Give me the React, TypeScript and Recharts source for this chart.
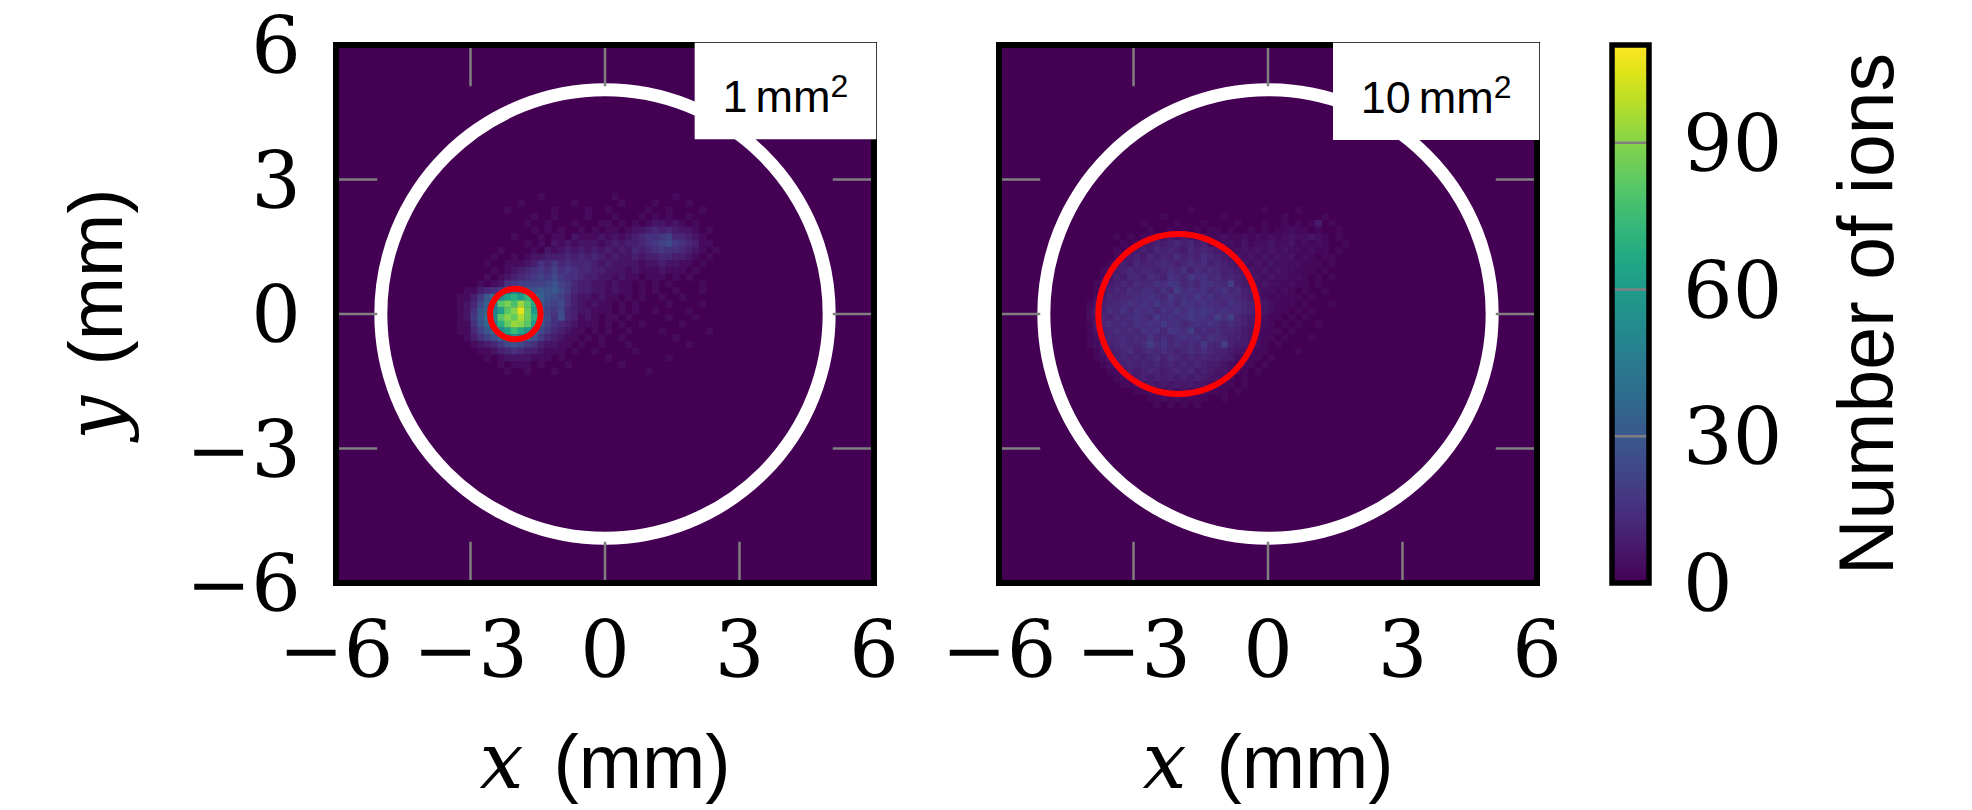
import React from 'react';
import { ScatterChart, Scatter, BarChart, Bar, XAxis, YAxis, ReferenceArea, ReferenceDot, ReferenceLine } from 'recharts';

// ---------------- data ----------------
const AXIS_TICKS = [-6, -3, 0, 3, 6];
const INNER_TICKS = [-3, 0, 3];
const CBAR_TICKS = [0, 30, 60, 90];
const CBAR_LINES = [30, 60, 90];
const CBAR_MAX = 110;
const CBAR_DATA = [{ k: 'ions', v: CBAR_MAX }];
const AXIS_MIN = -6;
const AXIS_MAX = 6;
const BIN = 0.15; // mm, histogram bin width
const DETECTOR_R = 5; // mm
const SPOT_X = -2;
const SPOT_Y = 0;
const SPOT_AREAS = [1, 10]; // mm^2
const BOX_TEXT = ['1', '10'];
const BOX_LEFT = [2.0, 1.45];
const BOX_BOTTOM = [3.9, 3.88];
const TICK_MM = 0.92;

// histogram counts: one char per bin, level index in LEVELS times unit
const LEVELS = '0123456789abcdefghijklmnopqrstuvwxyz';

const LEFT_ROW0 = 22;
const LEFT_COL0 = 17;
const LEFT_UNIT = 3;
const LEFT_ROWS = [
  '0000000000 0001000000 0000100000 0001000000',
  '0000000000 1000000010 0000010000 1000010000',
  '0000000010 0000010000 1001000001 0010000100',
  '0000000000 0010010000 1000100010 1010010000',
  '0000000000 0100100010 0011010101 2212101000',
  '0000000000 0010101001 0101101223 4343221010',
  '0000000001 0001011021 1121212345 5674432100',
  '0000000000 0101021212 2212323345 6786543110',
  '0000000100 0010212323 2323232434 5655432101',
  '0000001001 0122333434 3432322323 3443321010',
  '0000010011 1235464544 4323222212 2322110100',
  '0000001012 3456575654 4332221211 1211101000',
  '0000010123 4567686554 3322121101 1101010000',
  '0000101256 7777897643 3221211010 1010000100',
  '00113456af ea9a9a8643 3221211010 1001000100',
  '01136adhln kohb987532 2121101010 0100100000',
  '01248bfrtq vrma878532 1211010100 0010000100',
  '0125acglru zskb768432 2111010100 1000010000',
  '0126adhrus wsnb859431 2101101000 0010001000',
  '01159cfnsv urja754321 1101010010 0000100000',
  '01147achlp mje8643211 0101001000 0100000010',
  '0013579cgh fc96432110 1010010000 0001000000',
  '0001234689 8653221101 0010001000 0000010000',
  '0000112345 4332111010 0100000100 0000000000',
  '0000010122 2211101000 0001000000 0010000000',
  '0000000101 1101000100 0000010000 0000000000',
  '0000000010 0100010000 0000000001 0000000000',
];

const RIGHT_ROW0 = 24;
const RIGHT_COL0 = 12;
const RIGHT_UNIT = 2;
const RIGHT_ROWS = [
  '0000000000 0000001000 0000000100 0010000000',
  '0000000000 0010000000 0100000000 1000001000',
  '0000000001 0000100010 0001000100 1010140100',
  '0000000000 1001010101 1010010101 1211010010',
  '0000010101 1234343221 1211212121 2322321010',
  '0000001013 4545656452 1221312232 2312121001',
  '0000010345 4656546565 4322323232 3221211010',
  '0000013454 6565756576 5433232323 2312101100',
  '0000135465 5676567675 6543323232 2221110100',
  '0001245656 6567685767 6554332323 2211101000',
  '0001354665 7658769786 7565433232 2121010100',
  '0012456576 6879867688 76a5432322 1211010000',
  '0013565767 7686a78786 7867543221 2101001000',
  '0024656677 8769787978 6776543212 1110100000',
  '0135667878 7978698787 7687654321 1101000100',
  '0245768687 8687979898 7877654321 1010100000',
  '0236576787 6978789887 a7a6543211 0101000000',
  '0146767687 8797867878 7676543210 1010010000',
  '0135676768 786987a676 7665432111 0100000000',
  '0125667676 8676787868 7655432110 1000100000',
  '0124567667 a786767696 6a54432101 0000000000',
  '0013456756 7676567676 5543321100 0010000000',
  '0012456565 6757656565 5442211010 0000000000',
  '0001245656 5656565654 4321110100 0000000000',
  '0000124545 6545656454 3321101000 0000000000',
  '0000012345 4545454543 3210100000 0000000000',
  '0000001123 4343434332 2110100000 0000000000',
  '0000000011 2323232221 1101000000 0000000000',
  '0000000000 1121211110 0100000000 0000000000',
  '0000000000 0101010100 0000000000 0000000000',
];

// viridis colormap stops (style)
const VIRIDIS = [
  '#440154', '#471365', '#482475', '#463480', '#414487', '#3b528b', '#355f8d',
  '#2f6c8e', '#2a788e', '#25848e', '#21918c', '#1e9c89', '#22a884', '#2fb47c',
  '#44bf70', '#5ec962', '#7ad151', '#9bd93c', '#bddf26', '#dfe318', '#fde725',
];

// ---------------- layout ----------------
const W = 1972;
const H = 810;
const TOP = 45;
const XAXIS_H = 227;
const PLOT = 538;
const PX_PER_MM = PLOT / (AXIS_MAX - AXIS_MIN);
const TICK_FONT = 'DejaVu Serif';
const SANS = 'Liberation Sans';

function hex(c: string) {
  return [parseInt(c.slice(1, 3), 16), parseInt(c.slice(3, 5), 16), parseInt(c.slice(5, 7), 16)];
}
function viridis(t: number) {
  const tt = Math.max(0, Math.min(1, t)) * (VIRIDIS.length - 1);
  const i = Math.min(VIRIDIS.length - 2, Math.floor(tt));
  const f = tt - i;
  const a = hex(VIRIDIS[i]);
  const b = hex(VIRIDIS[i + 1]);
  const m = a.map((v, k) => Math.round(v + (b[k] - v) * f));
  return `rgb(${m[0]},${m[1]},${m[2]})`;
}

function decode(rows: string[], row0: number, col0: number, unit: number) {
  const pts: { x: number; y: number; v: number }[] = [];
  rows.forEach((s, ri) => {
    const cells = s.replace(/ /g, '');
    for (let ci = 0; ci < cells.length; ci++) {
      const lvl = LEVELS.indexOf(cells[ci]);
      if (lvl > 0) {
        const row = row0 + ri;
        const col = col0 + ci;
        pts.push({ x: AXIS_MIN + (col + 0.5) * BIN, y: AXIS_MAX - (row + 0.5) * BIN, v: lvl * unit });
      }
    }
  });
  return pts;
}

const LEFT_DATA = decode(LEFT_ROWS, LEFT_ROW0, LEFT_COL0, LEFT_UNIT);
const RIGHT_DATA = decode(RIGHT_ROWS, RIGHT_ROW0, RIGHT_COL0, RIGHT_UNIT);

const fmt = (v: number) => (v < 0 ? '\u2212' + Math.abs(v) : String(v));

function AxisTitle({ x, y, letter, rotate }: any) {
  return (
    <text
      x={x}
      y={y}
      textAnchor="middle"
      fill="#000"
      transform={rotate ? `rotate(-90 ${x} ${y})` : undefined}
    >
      <tspan fontFamily={TICK_FONT} fontStyle="italic" fontSize={78}>{letter}</tspan>
      <tspan fontFamily={SANS} fontSize={76} dx={30}>(mm)</tspan>
    </text>
  );
}

function XTick(props: any) {
  const { x, y, payload } = props;
  return (
    <g>
      <text x={x} y={y + 94} textAnchor="middle" fontFamily={TICK_FONT} fontSize={78} fill="#000">
        {fmt(payload.value)}
      </text>
      {payload.value === 0 ? <AxisTitle x={x} y={y + 205} letter="x" /> : null}
    </g>
  );
}

function YTick(props: any) {
  const { x, y, payload } = props;
  return (
    <g>
      <text x={x - 35} y={y + 28} textAnchor="end" fontFamily={TICK_FONT} fontSize={78} fill="#000">
        {fmt(payload.value)}
      </text>
      {payload.value === 0 ? <AxisTitle x={x - 214} y={y} letter="y" rotate /> : null}
    </g>
  );
}

function CTick(props: any) {
  const { x, y, payload } = props;
  return (
    <text x={x + 34} y={y + 28} textAnchor="start" fontFamily={TICK_FONT} fontSize={78} fill="#000">
      {payload.value}
    </text>
  );
}

function BoxLabel(props: any) {
  const vb = props.viewBox || { x: 0, y: 0, width: 0, height: 0 };
  const cx = vb.x + vb.width / 2;
  const by = vb.y + vb.height * 0.72;
  return (
    <text x={cx} y={by} textAnchor="middle" fontFamily={SANS} fontSize={45} fill="#000">
      {props.text}
      <tspan dx={8}>mm</tspan>
      <tspan fontSize={32} dy={-15}>2</tspan>
    </text>
  );
}

function CbarTitle(props: any) {
  const vb = props.viewBox || { x: 20, y: TOP, width: 37, height: PLOT };
  const x = vb.x + vb.width + 244;
  const y = vb.y + vb.height / 2;
  return (
    <text x={x} y={y} textAnchor="middle" fontFamily={SANS} fontSize={77} fill="#000" transform={`rotate(-90 ${x} ${y})`}>
      Number of ions
    </text>
  );
}

const cellPx = BIN * PX_PER_MM;
function heatCell(props: any) {
  const { cx, cy, payload } = props;
  if (cx == null || cy == null) return <g />;
  return (
    <rect
      x={cx - cellPx / 2}
      y={cy - cellPx / 2}
      width={cellPx + 0.4}
      height={cellPx + 0.4}
      fill={viridis(payload.v / CBAR_MAX)}
    />
  );
}

function Panel({ left, width, yAxisWidth, marginRight, data, area, boxText, boxLeft, boxBottom, showY }: any) {
  const gray = '#808080';
  const tickLines: any[] = [];
  INNER_TICKS.forEach((t) => {
    tickLines.push(<ReferenceLine key={`b${t}`} segment={[{ x: t, y: AXIS_MIN }, { x: t, y: AXIS_MIN + TICK_MM }]} stroke={gray} strokeWidth={2.5} zIndex={800} />);
    tickLines.push(<ReferenceLine key={`t${t}`} segment={[{ x: t, y: AXIS_MAX }, { x: t, y: AXIS_MAX - TICK_MM }]} stroke={gray} strokeWidth={2.5} zIndex={800} />);
    tickLines.push(<ReferenceLine key={`l${t}`} segment={[{ x: AXIS_MIN, y: t }, { x: AXIS_MIN + TICK_MM, y: t }]} stroke={gray} strokeWidth={2.5} zIndex={800} />);
    tickLines.push(<ReferenceLine key={`r${t}`} segment={[{ x: AXIS_MAX, y: t }, { x: AXIS_MAX - TICK_MM, y: t }]} stroke={gray} strokeWidth={2.5} zIndex={800} />);
  });
  return (
    <div style={{ position: 'absolute', left, top: 0 }}>
      <ScatterChart width={width} height={H} margin={{ top: TOP, right: marginRight, bottom: 0, left: 0 }}>
        <XAxis
          type="number"
          dataKey="x"
          domain={[AXIS_MIN, AXIS_MAX]}
          ticks={AXIS_TICKS}
          interval={0}
          allowDataOverflow
          axisLine={false}
          tickLine={false}
          tickSize={0}
          tickMargin={0}
          height={XAXIS_H}
          tick={<XTick />}
        />
        <YAxis
          type="number"
          dataKey="y"
          domain={[AXIS_MIN, AXIS_MAX]}
          ticks={AXIS_TICKS}
          interval={0}
          allowDataOverflow
          axisLine={false}
          tickLine={false}
          tickSize={0}
          tickMargin={0}
          width={yAxisWidth}
          tick={showY ? <YTick /> : false}
        />
        <ReferenceArea x1={AXIS_MIN} x2={AXIS_MAX} y1={AXIS_MIN} y2={AXIS_MAX} fill={VIRIDIS[0]} fillOpacity={1} stroke="none" zIndex={50} />
        <Scatter data={data} shape={heatCell} isAnimationActive={false} zIndex={600} />
        <ReferenceDot x={0} y={0} r={DETECTOR_R * PX_PER_MM} fill="none" stroke="#ffffff" strokeWidth={13} zIndex={700} />
        <ReferenceDot x={SPOT_X} y={SPOT_Y} r={Math.sqrt(area / Math.PI) * PX_PER_MM} fill="none" stroke="#ff0000" strokeWidth={6} zIndex={710} />
        {tickLines}
        <ReferenceArea x1={AXIS_MIN} x2={AXIS_MAX} y1={AXIS_MIN} y2={AXIS_MAX} fill="none" fillOpacity={0} stroke="#000" strokeWidth={6} zIndex={900} />
        <ReferenceArea
          x1={boxLeft}
          x2={AXIS_MAX + 0.05}
          y1={boxBottom}
          y2={AXIS_MAX + 0.05}
          ifOverflow="visible"
          fill="#ffffff"
          fillOpacity={1}
          stroke="none"
          zIndex={1000}
          label={<BoxLabel text={boxText} />}
        />
      </ScatterChart>
    </div>
  );
}

function Colorbar() {
  return (
    <div style={{ position: 'absolute', left: 1592, top: 0 }}>
      <BarChart
        width={357}
        height={H}
        data={CBAR_DATA}
        barCategoryGap={0}
        barGap={0}
        margin={{ top: TOP, right: 0, bottom: XAXIS_H, left: 20 }}
      >
        <defs>
          <linearGradient id="viridisCbar" x1="0" y1="1" x2="0" y2="0">
            {VIRIDIS.map((c, i) => (
              <stop key={i} offset={`${(i / (VIRIDIS.length - 1)) * 100}%`} stopColor={c} />
            ))}
          </linearGradient>
        </defs>
        <XAxis dataKey="k" type="category" hide />
        <YAxis
          type="number"
          orientation="right"
          domain={[0, CBAR_MAX]}
          ticks={CBAR_TICKS}
          interval={0}
          allowDataOverflow
          axisLine={false}
          tickLine={false}
          tickSize={0}
          tickMargin={0}
          width={300}
          tick={<CTick />}
        />
        <Bar dataKey="v" fill="url(#viridisCbar)" isAnimationActive={false} zIndex={300} />
        {CBAR_LINES.map((t) => (
          <ReferenceLine key={t} y={t} stroke="#808080" strokeWidth={2.5} zIndex={800} />
        ))}
        <ReferenceArea y1={0} y2={CBAR_MAX} fill="none" fillOpacity={0} stroke="#000" strokeWidth={5.5} zIndex={900} label={<CbarTitle />} />
      </BarChart>
    </div>
  );
}

export default function App() {
  return (
    <div style={{ position: 'absolute', left: 0, top: 0, width: W, height: H, background: '#ffffff', overflow: 'hidden' }}>
      <Panel
        left={0}
        width={930}
        yAxisWidth={336}
        marginRight={56}
        data={LEFT_DATA}
        area={SPOT_AREAS[0]}
        boxText={BOX_TEXT[0]}
        boxLeft={BOX_LEFT[0]}
        boxBottom={BOX_BOTTOM[0]}
        showY
      />
      <Panel
        left={879}
        width={710}
        yAxisWidth={120}
        marginRight={52}
        data={RIGHT_DATA}
        area={SPOT_AREAS[1]}
        boxText={BOX_TEXT[1]}
        boxLeft={BOX_LEFT[1]}
        boxBottom={BOX_BOTTOM[1]}
        showY={false}
      />
      <Colorbar />
    </div>
  );
}
